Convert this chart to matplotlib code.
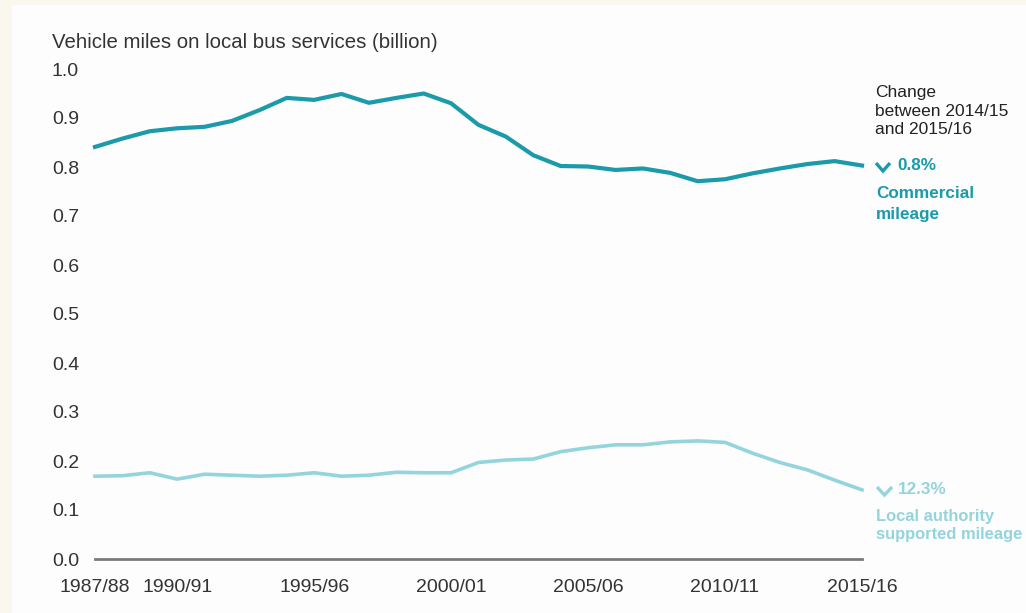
import matplotlib
matplotlib.use("Agg")
import matplotlib.pyplot as plt
from matplotlib.patches import Rectangle
from matplotlib.lines import Line2D

years = ["1987/88", "1988/89", "1989/90", "1990/91", "1991/92", "1992/93", "1993/94",
         "1994/95", "1995/96", "1996/97", "1997/98", "1998/99", "1999/00", "2000/01",
         "2001/02", "2002/03", "2003/04", "2004/05", "2005/06", "2006/07", "2007/08",
         "2008/09", "2009/10", "2010/11", "2011/12", "2012/13", "2013/14", "2014/15",
         "2015/16"]
commercial = [0.841, 0.858, 0.873, 0.879, 0.882, 0.894, 0.916, 0.941, 0.937, 0.949,
              0.931, 0.941, 0.950, 0.930, 0.886, 0.862, 0.824, 0.802, 0.801, 0.794,
              0.797, 0.788, 0.771, 0.775, 0.787, 0.797, 0.806, 0.812, 0.803]
local_authority = [0.169, 0.170, 0.176, 0.163, 0.173, 0.171, 0.169, 0.171, 0.176, 0.169,
                   0.171, 0.177, 0.176, 0.176, 0.197, 0.202, 0.204, 0.219, 0.227, 0.233,
                   0.233, 0.239, 0.241, 0.238, 0.216, 0.197, 0.182, 0.161, 0.141]
tick_labels = ["1987/88", "1990/91", "1995/96", "2000/01", "2005/06", "2010/11", "2015/16"]
y_ticks = [0.0, 0.1, 0.2, 0.3, 0.4, 0.5, 0.6, 0.7, 0.8, 0.9, 1.0]

C_COM = "#1b9aaa"
C_LA = "#94d4dd"
TXT = "#333333"
FONT = "Liberation Sans"

W, H = 1026, 613
fig = plt.figure(figsize=(W / 100, H / 100), dpi=100, facecolor="#faf7ef")
fig.patches.append(Rectangle((12 / W, 0), 1, 1 - 5 / H, transform=fig.transFigure,
                             facecolor="#fdfdfd", edgecolor="none", zorder=-10))

ax = fig.add_axes([95 / W, 1 - 559 / H, (862 - 95) / W, (559 - 69) / H])
ax.patch.set_alpha(0)
x = list(range(len(years)))
ax.plot(x, commercial, color=C_COM, lw=3.0, solid_joinstyle="round", clip_on=False)
ax.plot(x, local_authority, color=C_LA, lw=2.6, solid_joinstyle="round", clip_on=False)

ax.set_xlim(0, len(years) - 1)
ax.set_ylim(0, 1.0)
ax.set_yticks(y_ticks)
ax.set_yticklabels([f"{v:.1f}" for v in y_ticks])
ax.set_xticks([years.index(t) for t in tick_labels])
ax.set_xticklabels(tick_labels)
for s in ["top", "right", "left"]:
    ax.spines[s].set_visible(False)
ax.spines["bottom"].set_color("#7a7a7a")
ax.spines["bottom"].set_linewidth(2.0)
ax.tick_params(axis="both", length=0, labelcolor=TXT, labelsize=14)
ax.tick_params(axis="x", pad=14.5)
for lab in ax.get_xticklabels() + ax.get_yticklabels():
    lab.set_fontfamily(FONT)
for lab in ax.get_yticklabels():
    lab.set_horizontalalignment("left")
ax.tick_params(axis="y", pad=31)

fig.text(52 / W, 1 - 43 / H, "Vehicle miles on local bus services (billion)",
         fontsize=14.7, color=TXT, family=FONT, va="center", ha="left")

def ft(px, py, s, **kw):
    fig.text(px / W, 1 - py / H, s, va="center", ha="left", family=FONT, **kw)

def chevron(px, py, w, h, color):
    xs = [px, px + w / 2, px + w]
    ys = [py - h / 2, py + h / 2, py - h / 2]
    fig.add_artist(Line2D([v / W for v in xs], [1 - v / H for v in ys],
                          transform=fig.transFigure, color=color, lw=2.4,
                          solid_joinstyle="miter", solid_capstyle="butt"))

ft(875, 92, "Change", fontsize=12.5, color="#222222")
ft(875, 111, "between 2014/15", fontsize=12.5, color="#222222")
ft(875, 130, "and 2015/16", fontsize=12.5, color="#222222")

chevron(876, 167, 14, 8, C_COM)
ft(897, 166, "0.8%", fontsize=12.3, color=C_COM, weight="bold")
ft(876, 193, "Commercial", fontsize=12.3, color=C_COM, weight="bold")
ft(876, 214, "mileage", fontsize=12.3, color=C_COM, weight="bold")

chevron(877, 491, 15, 8, C_LA)
ft(898, 490, "12.3%", fontsize=12.3, color=C_LA, weight="bold")
ft(876, 516, "Local authority", fontsize=11.9, color=C_LA, weight="bold")
ft(876, 535, "supported mileage", fontsize=11.9, color=C_LA, weight="bold")

fig.savefig("out.png", dpi=100, facecolor=fig.get_facecolor())
